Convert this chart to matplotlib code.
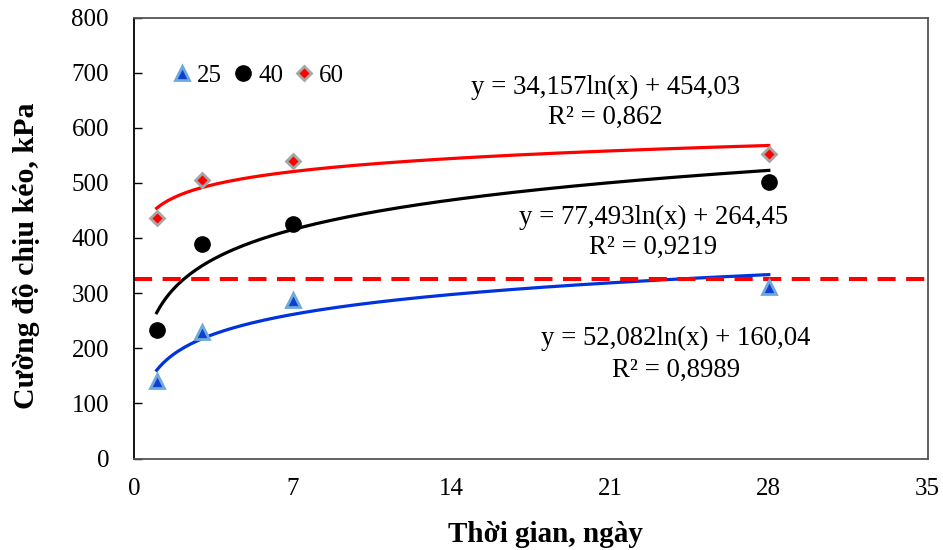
import numpy as np
import matplotlib
matplotlib.use("Agg")
import matplotlib.pyplot as plt

plt.rcParams['font.family'] = ['Liberation Serif', 'DejaVu Serif']

days = [1, 3, 7, 28]
s25 = [140, 230, 288, 312]
s40 = [234, 389, 425, 502]
s60 = [436, 505, 540, 552]
series_labels = ["25", "40", "60"]
fit_coef = [(52.082, 160.04), (77.493, 264.45), (34.157, 454.03)]
eq_texts = [("y = 52,082ln(x) + 160,04", "R² = 0,8989"),
            ("y = 77,493ln(x) + 264,45", "R² = 0,9219"),
            ("y = 34,157ln(x) + 454,03", "R² = 0,862")]
threshold = 325
xticks = [0, 7, 14, 21, 28, 35]
yticks = [0, 100, 200, 300, 400, 500, 600, 700, 800]
xlabel = "Thời gian, ngày"
ylabel = "Cường độ chịu kéo, kPa"

fig = plt.figure(figsize=(9.43, 5.5), dpi=100)
ax = fig.add_axes([134/943, 1 - 458.5/550, (927.5-134)/943, (458.5-17.5)/550])

line_colors = ["#0033dd", "black", "#ff0000"]
xf = np.linspace(1, 28, 200)
for (a, b), c in zip(fit_coef, line_colors):
    ax.plot(xf, a*np.log(xf) + b, color=c, lw=2.3, zorder=2)

ax.axhline(threshold, color="#ff0000", lw=2.9, dashes=(4.5, 2.6), zorder=2)

ax.plot(days, s25, linestyle="none", marker="^", ms=10, mfc="#1040d0",
        mec="#6fa8dc", mew=2.0, label=series_labels[0], zorder=3)
ax.plot(days, s40, linestyle="none", marker="o", ms=11, mfc="black",
        mec="black", mew=1, label=series_labels[1], zorder=3)
ax.plot(days, s60, linestyle="none", marker="D", ms=7.5, mfc="#ff0000",
        mec="#a6a6a6", mew=2.0, label=series_labels[2], zorder=3)

ax.set_xlim(0, 35)
ax.set_ylim(0, 800)
ax.set_xticks(xticks)
ax.set_yticks(yticks)
ax.tick_params(axis='y', direction='in', length=6, width=1, pad=18, labelsize=18)
ax.tick_params(axis='x', length=0, pad=14, labelsize=18)
for side in ["top", "right", "bottom"]:
    ax.spines[side].set_color("#555555")
    ax.spines[side].set_linewidth(1.3)
ax.spines["left"].set_color("black")
ax.spines["left"].set_linewidth(1.3)

ax.set_xlabel(xlabel, fontsize=21, fontweight="bold", labelpad=15)
ax.set_ylabel(ylabel, fontsize=21.5, fontweight="bold", labelpad=23)
ax.xaxis.label.set_x(0.519)
ax.yaxis.label.set_y(0.459)

# equations (positions in data coords)
eq_pos = [(23.9, 218.6, 160.5), (22.9, 438, 383.7), (20.8, 674, 619.5)]
for (l1, l2), (xp, y1, y2) in zip(eq_texts, eq_pos):
    ax.text(xp, y1, l1, ha="center", va="center", fontsize=19.3)
    ax.text(xp, y2, l2, ha="center", va="center", fontsize=19.3)

leg = ax.legend(loc="center left", bbox_to_anchor=(0.035, 694/800), ncol=3,
                frameon=False, fontsize=18, handlelength=0.6, handletextpad=0.3,
                columnspacing=0.55, borderpad=0)

fig.savefig("out.png", dpi=100)
